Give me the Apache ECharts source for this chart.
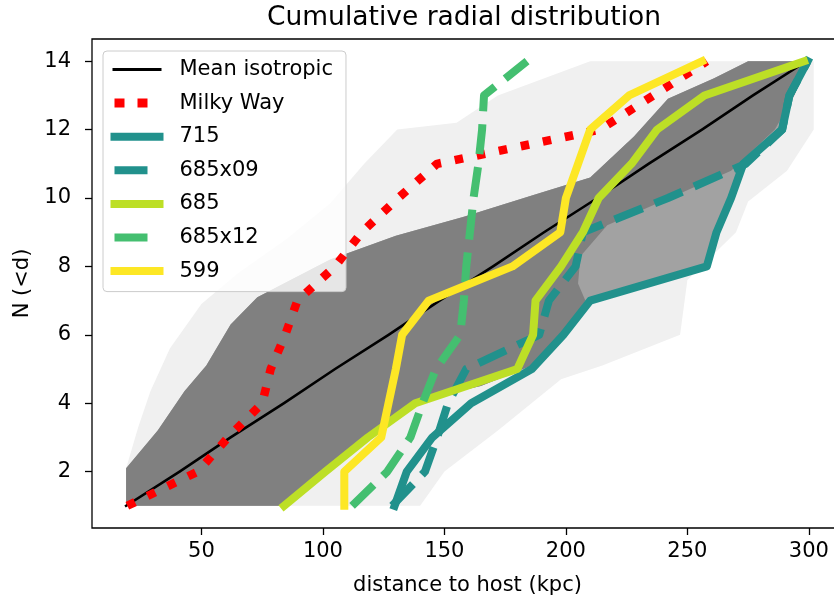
<!DOCTYPE html>
<html><head><meta charset="utf-8">
<script src="https://cdn.jsdelivr.net/npm/echarts@6/dist/echarts.min.js"></script>
<style>html,body{margin:0;padding:0;background:#fff}#c{width:834px;height:599px}</style>
</head><body><div id="c"></div><script>
// ---- data ----
const nCount = [1,2,3,4,5,6,7,8,9,10,11,12,13,14];
const meanIsotropic = [19, 41, 62, 84, 105, 127, 148, 170, 191, 213, 234, 256, 277, 299];
const milkyWay = [19.5, 48.5, 61, 75, 78.5, 84.5, 89.5, 105, 116, 131, 147, 214, 236, 258];
const h715 = [129.5, 134.5, 145, 161, 186, 199, 210, 258, 262, 268, 273, 289, 292, 299.5];
const h685x09 = [128.5, 142, 147, 151.5, 159, 189, 193, 204, 207, 242, 274, 289, 292, 299.5];
const h685 = [84, 101, 118.5, 138, 180, 186.5, 187.5, 198, 207, 213.5, 227, 237.5, 257, 298];
const h685x12 = [112, 126.5, 136, 141, 146.5, 156.5, 158, 159, 160.5, 162, 164, 165.5, 166.3, 184];
const h599 = [108.8, 108.8, 124, 127, 130, 132.6, 143.5, 178, 197.7, 200, 205, 210, 226, 256];
const xTicks = [50, 100, 150, 200, 250, 300];
const yTicks = [2, 4, 6, 8, 10, 12, 14];
// envelope of the isotropic realisations (x kpc, N)
const bandOuter = [[19,1],[19,2.1],[24,3.3],[29,4.35],[37,5.6],[50,6.9],[65,7.8],[85,8.8],[103,9.85],[117,11],[130.6,12],[155,12.2],[172,13],[210,14],[302,14],[302,12],[291,10.8],[275,9.9],[270,9],[250,7.6],[247,6],[215,5.1],[198,4.7],[172,3.2],[150,2],[140,1]];
const bandMid = [[19,1],[19,2.1],[32,3.2],[43,4.35],[52,5.1],[62,6.3],[73,7.1],[103,8.2],[130,8.9],[158,9.45],[185,10.05],[210,10.6],[228,11.8],[242,12.9],[261,13.5],[275,14],[300,14],[292,13],[289,12],[273,11],[268,10],[262,9],[258,8],[210,7],[199,6],[186,5.1],[165,4.5],[140,4.1],[118,3],[101,2],[84,1]];
const bandCore = [[19,1],[19,2.1],[32,3.2],[43,4.35],[52,5.1],[62,6.3],[73,7.1],[103,8.2],[130,8.9],[158,9.45],[185,10.05],[210,10.6],[228,11.8],[242,12.9],[261,13.5],[275,14],[300,14],[294,13],[286,12],[268,10.8],[246,10.1],[217,9.2],[206,8.3],[205,7.5],[208,7],[199,6],[186,5.1],[165,4.5],[140,4.1],[118,3],[101,2],[84,1]];

const FONT = 'DejaVu Sans';
const pairs = xs => xs.map((x, i) => [x, nCount[i]]);
function band(pts, color) {
  return {
    type: 'custom', silent: true, z: 1,
    data: pts,
    encode: {x: 0, y: 1},
    renderItem: function (params, api) {
      if (params.dataIndex !== 0) return null;
      return {type: 'polygon', shape: {points: pts.map(p => api.coord(p))}, style: {fill: color}};
    }
  };
}
function line(name, xs, color, width, dash, z) {
  return {
    name: name, type: 'line', data: pairs(xs), symbol: 'none', z: z,
    lineStyle: {color: color, width: width, type: dash || 'solid', cap: dash ? 'butt' : 'square', join: 'round'},
    itemStyle: {color: color}
  };
}
const chart = echarts.init(document.getElementById('c'));
chart.setOption({
  animation: false,
  backgroundColor: '#fff',
  title: {text: 'Cumulative radial distribution', left: 459, top: 0, textAlign: 'center',
    textStyle: {fontFamily: FONT, fontSize: 26.5, fontWeight: 'normal', color: '#000'}},
  grid: {left: 92, top: 39, width: 751, height: 489, outerBoundsMode: 'none', containLabel: false,
    show: true, borderColor: '#000', borderWidth: 1.3},
  xAxis: {type: 'value', min: 4.95, max: 314.05,
    name: 'distance to host (kpc)', nameLocation: 'middle', nameGap: 47,
    nameTextStyle: {fontFamily: FONT, fontSize: 21, color: '#000'},
    axisLine: {show: false}, splitLine: {show: false},
    axisTick: {show: true, length: 7, lineStyle: {color: '#000', width: 1.3}, customValues: xTicks},
    axisLabel: {customValues: xTicks, margin: 13, fontFamily: FONT, fontSize: 21, color: '#000'}},
  yAxis: {type: 'value', min: 0.35, max: 14.65,
    name: 'N (<d)', nameLocation: 'middle', nameGap: 56, nameRotate: 90,
    nameTextStyle: {fontFamily: FONT, fontSize: 21, color: '#000'},
    axisLine: {show: false}, splitLine: {show: false},
    axisTick: {show: true, length: 7, lineStyle: {color: '#000', width: 1.3}, customValues: yTicks},
    axisLabel: {customValues: yTicks, margin: 21, fontFamily: FONT, fontSize: 21, color: '#000'}},
  legend: {
    orient: 'vertical', left: 103, top: 51, itemWidth: 53, itemHeight: 20, itemGap: 12.6,
    padding: [8, 13, 10, 3],
    backgroundColor: 'rgba(255,255,255,0.8)', borderColor: '#cccccc', borderWidth: 1, borderRadius: 4,
    textStyle: {fontFamily: FONT, fontSize: 21, color: '#000', lineHeight: 21, padding: [0, 0, 0, 11]},
    itemStyle: {opacity: 0},
    lineStyle: {width: 'inherit', type: 'inherit', cap: 'butt'},
    selectedMode: false,
    data: [
      {name: 'Mean isotropic', lineStyle: {width: 3, type: [49, 100], dashOffset: 147, cap: 'butt'}},
      {name: 'Milky Way', lineStyle: {width: 9, type: [10, 13, 10, 30], dashOffset: 59, cap: 'butt'}},
      {name: '715', lineStyle: {width: 8, type: 'solid', cap: 'butt'}},
      {name: '685x09', lineStyle: {width: 8, type: [33, 100], dashOffset: 129, cap: 'butt'}},
      {name: '685', lineStyle: {width: 8, type: 'solid', cap: 'butt'}},
      {name: '685x12', lineStyle: {width: 8, type: [33, 100], dashOffset: 129, cap: 'butt'}},
      {name: '599', lineStyle: {width: 8, type: 'solid', cap: 'butt'}}
    ]
  },
  series: [
    band(bandOuter, '#f0f0f0'),
    band(bandMid, '#a2a2a2'),
    band(bandCore, '#808080'),
    line('Mean isotropic', meanIsotropic, '#000000', 2.6, null, 3),
    line('Milky Way', milkyWay, '#ff0000', 8.5, [8.5, 14], 4),
    line('715', h715, '#21918c', 8, null, 5),
    line('685x09', h685x09, '#21918c', 8, [30, 13], 6),
    line('685', h685, '#bddf26', 8, null, 7),
    line('685x12', h685x12, '#44bf70', 8, [30, 13], 8),
    line('599', h599, '#fde725', 8, null, 9)
  ]
});
</script></body></html>
